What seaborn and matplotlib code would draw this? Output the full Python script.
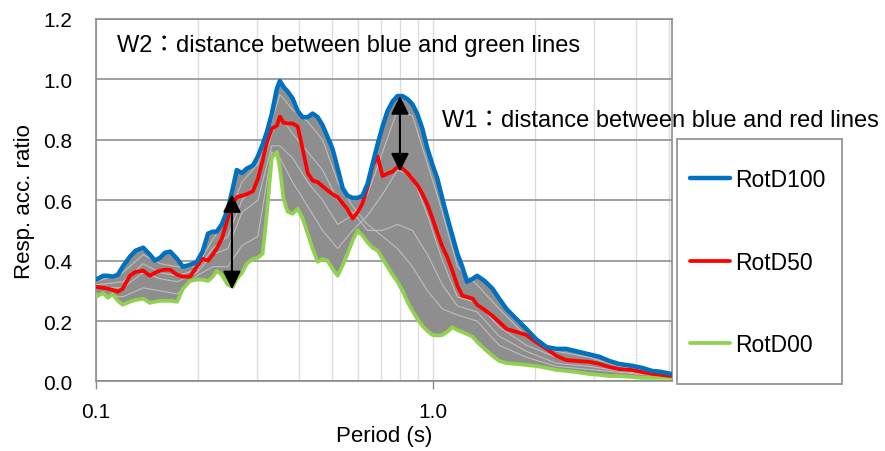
import pandas as pd
import matplotlib
matplotlib.use('Agg')
import matplotlib.pyplot as plt
from matplotlib.ticker import FixedLocator, NullFormatter, FormatStrFormatter
from matplotlib.patches import Rectangle
import seaborn as sns

# periods (s)
period = [0.100, 0.105, 0.1085, 0.112, 0.116, 0.120, 0.126, 0.131, 0.138, 0.1445,
          0.1495, 0.155, 0.160, 0.166, 0.174, 0.181, 0.190, 0.199, 0.207, 0.215,
          0.222, 0.228, 0.236, 0.246, 0.2545, 0.2615, 0.271, 0.280, 0.292, 0.302,
          0.312, 0.321, 0.332, 0.344, 0.351, 0.360, 0.370, 0.383, 0.3965, 0.410,
          0.4245, 0.439, 0.4545, 0.470, 0.486, 0.503, 0.521, 0.539, 0.557, 0.577,
          0.597, 0.617, 0.639, 0.661, 0.684, 0.708, 0.732, 0.758, 0.784, 0.811,
          0.839, 0.868, 0.898, 0.930, 0.962, 0.995, 1.03, 1.065, 1.10, 1.14,
          1.18, 1.22, 1.26, 1.31, 1.35, 1.42, 1.50, 1.57, 1.65, 1.765,
          1.89, 2.02, 2.17, 2.32, 2.48, 2.66, 2.90, 3.11, 3.33, 3.56,
          3.89, 4.17, 4.46, 4.74, 5.08]

rotd100 = [0.337, 0.350, 0.350, 0.347, 0.353, 0.380, 0.413, 0.433, 0.443, 0.420,
           0.400, 0.410, 0.426, 0.430, 0.406, 0.380, 0.386, 0.396, 0.430, 0.490,
           0.496, 0.496, 0.520, 0.570, 0.640, 0.700, 0.690, 0.705, 0.715, 0.745,
           0.785, 0.825, 0.885, 0.970, 0.995, 0.975, 0.960, 0.937, 0.895, 0.875,
           0.875, 0.887, 0.875, 0.848, 0.810, 0.770, 0.705, 0.640, 0.615, 0.608,
           0.608, 0.615, 0.655, 0.720, 0.785, 0.845, 0.895, 0.927, 0.945, 0.945,
           0.935, 0.918, 0.885, 0.835, 0.770, 0.718, 0.670, 0.605, 0.545, 0.483,
           0.423, 0.380, 0.330, 0.340, 0.350, 0.333, 0.307, 0.274, 0.240, 0.207,
           0.174, 0.140, 0.114, 0.108, 0.108, 0.100, 0.090, 0.082, 0.068, 0.058,
           0.052, 0.045, 0.035, 0.032, 0.025]

rotd50 = [0.313, 0.310, 0.307, 0.303, 0.297, 0.307, 0.350, 0.363, 0.367, 0.350,
          0.360, 0.367, 0.370, 0.370, 0.353, 0.347, 0.347, 0.380, 0.406, 0.400,
          0.420, 0.440, 0.472, 0.540, 0.590, 0.610, 0.615, 0.620, 0.630, 0.670,
          0.730, 0.790, 0.837, 0.847, 0.877, 0.857, 0.854, 0.854, 0.844, 0.770,
          0.690, 0.665, 0.660, 0.646, 0.633, 0.620, 0.610, 0.590, 0.570, 0.540,
          0.560, 0.590, 0.645, 0.715, 0.745, 0.680, 0.688, 0.695, 0.710, 0.705,
          0.690, 0.670, 0.650, 0.620, 0.585, 0.540, 0.490, 0.446, 0.413, 0.367,
          0.317, 0.284, 0.280, 0.274, 0.254, 0.237, 0.217, 0.197, 0.174, 0.164,
          0.154, 0.130, 0.108, 0.085, 0.071, 0.068, 0.065, 0.058, 0.048, 0.041,
          0.038, 0.031, 0.025, 0.022, 0.018]

rotd00 = [0.280, 0.293, 0.277, 0.290, 0.267, 0.254, 0.264, 0.270, 0.274, 0.260,
          0.264, 0.267, 0.267, 0.267, 0.264, 0.307, 0.333, 0.337, 0.337, 0.333,
          0.347, 0.367, 0.353, 0.320, 0.313, 0.340, 0.360, 0.390, 0.406, 0.410,
          0.423, 0.555, 0.740, 0.760, 0.705, 0.605, 0.562, 0.555, 0.572, 0.540,
          0.490, 0.440, 0.396, 0.406, 0.400, 0.373, 0.350, 0.385, 0.423, 0.466,
          0.500, 0.483, 0.460, 0.443, 0.433, 0.406, 0.380, 0.353, 0.330, 0.300,
          0.264, 0.234, 0.207, 0.184, 0.167, 0.154, 0.152, 0.154, 0.164, 0.180,
          0.170, 0.164, 0.157, 0.148, 0.131, 0.108, 0.085, 0.068, 0.061, 0.058,
          0.055, 0.051, 0.045, 0.038, 0.035, 0.031, 0.025, 0.022, 0.018, 0.018,
          0.015, 0.012, 0.012, 0.012, 0.012]

# a few of the intermediate rotation angles (grey bundle)
gray_period = [0.100, 0.120, 0.138, 0.155, 0.174, 0.199, 0.222, 0.246, 0.271, 0.302,
               0.332, 0.351, 0.383, 0.4245, 0.470, 0.521, 0.577, 0.639, 0.708, 0.784,
               0.868, 0.962, 1.065, 1.18, 1.35, 1.57, 1.89, 2.32, 2.90, 3.56,
               4.46, 5.08]
gray_a = [0.33, 0.36, 0.42, 0.39, 0.38, 0.38, 0.47, 0.54, 0.66, 0.72, 0.86, 0.95, 0.90, 0.86, 0.80, 0.66,
          0.58, 0.52, 0.48, 0.44, 0.38, 0.30, 0.24, 0.22, 0.20, 0.12, 0.08, 0.05, 0.04, 0.03, 0.020, 0.016]
gray_b = [0.31, 0.31, 0.36, 0.34, 0.33, 0.36, 0.42, 0.44, 0.56, 0.60, 0.78, 0.78, 0.74, 0.66, 0.60, 0.52,
          0.55, 0.62, 0.76, 0.90, 0.88, 0.72, 0.56, 0.38, 0.32, 0.24, 0.15, 0.10, 0.08, 0.05, 0.030, 0.022]
gray_c = [0.29, 0.28, 0.31, 0.30, 0.29, 0.35, 0.38, 0.38, 0.45, 0.48, 0.76, 0.74, 0.66, 0.58, 0.50, 0.44,
          0.50, 0.55, 0.62, 0.70, 0.68, 0.55, 0.40, 0.28, 0.26, 0.18, 0.12, 0.08, 0.06, 0.04, 0.025, 0.020]
gray_d = [0.32, 0.33, 0.39, 0.36, 0.35, 0.37, 0.44, 0.48, 0.60, 0.66, 0.82, 0.88, 0.82, 0.76, 0.70, 0.60,
          0.56, 0.50, 0.50, 0.52, 0.50, 0.42, 0.32, 0.25, 0.23, 0.15, 0.10, 0.06, 0.05, 0.035, 0.022, 0.018]

colors = {'RotD100': '#0070c0', 'RotD50': '#ff0000', 'RotD00': '#92d050'}
widths = {'RotD100': 3.2, 'RotD50': 2.7, 'RotD00': 2.7}

sns.set_theme(style='white')
plt.rcParams['font.family'] = ['Liberation Sans', 'Noto Sans CJK JP', 'DejaVu Sans']
plt.rcParams['text.color'] = 'black'
plt.rcParams['axes.labelcolor'] = 'black'
plt.rcParams['xtick.labelcolor'] = 'black'
plt.rcParams['ytick.labelcolor'] = 'black'

df = pd.concat([
    pd.DataFrame({'period': period, 'ratio': rotd00, 'curve': 'RotD00'}),
    pd.DataFrame({'period': period, 'ratio': rotd50, 'curve': 'RotD50'}),
    pd.DataFrame({'period': period, 'ratio': rotd100, 'curve': 'RotD100'}),
])
gray = pd.concat([
    pd.DataFrame({'period': gray_period, 'ratio': vals, 'angle': name})
    for name, vals in [('a', gray_a), ('b', gray_b), ('c', gray_c), ('d', gray_d)]
])

fig = plt.figure(figsize=(8.85, 4.52), dpi=100)
ax = fig.add_axes([0.1085, 0.1538, 0.6505, 0.802])

# grey bundle of rotated spectra
ax.fill_between(period, rotd00, rotd100, color='#8e8e8e', lw=0, zorder=2)
sns.lineplot(data=gray, x='period', y='ratio', units='angle', estimator=None,
             color='#bdbdbd', linewidth=0.8, ax=ax, zorder=3)

for name in ['RotD00', 'RotD50', 'RotD100']:
    sns.lineplot(data=df[df.curve == name], x='period', y='ratio', color=colors[name],
                 linewidth=widths[name], ax=ax, label=name, zorder=4)

ax.set_xscale('log')
ax.set_xlim(0.1, 5.1)
ax.set_ylim(0, 1.2)

ax.xaxis.set_major_locator(FixedLocator([0.1, 1.0]))
ax.set_xticklabels(['0.1', '1.0'])
ax.xaxis.set_minor_locator(FixedLocator([0.2, 0.3, 0.4, 0.5, 0.6, 0.7, 0.8, 0.9, 2, 3, 4, 5]))
ax.xaxis.set_minor_formatter(NullFormatter())
ax.set_yticks([0, 0.2, 0.4, 0.6, 0.8, 1.0, 1.2])
ax.yaxis.set_major_formatter(FormatStrFormatter('%.1f'))

ax.grid(axis='y', which='major', color='#999999', linewidth=1.3, zorder=0)
ax.grid(axis='x', which='both', color='#dcdcdc', linewidth=1.0, zorder=0)
ax.set_axisbelow(True)

ax.tick_params(axis='x', which='major', length=6, width=1, color='#8c8c8c',
               labelsize=15, pad=9, direction='out', bottom=True)
ax.tick_params(axis='x', which='minor', length=0)
ax.tick_params(axis='y', length=0, labelsize=15, pad=17)
for side in ax.spines.values():
    side.set_color('#8c8c8c')
    side.set_linewidth(1.2)

ax.set_xlabel('Period (s)', fontsize=16, labelpad=3)
ax.set_ylabel('Resp. acc. ratio', fontsize=16, labelpad=6)

# W1 / W2 arrows
arrow = dict(arrowstyle='<|-|>,head_length=0.55,head_width=0.27', color='black',
             lw=1.5, shrinkA=0, shrinkB=0, mutation_scale=20)
ax.annotate('', xy=(0.253, 0.62), xytext=(0.253, 0.305), arrowprops=arrow, zorder=6)
ax.annotate('', xy=(0.797, 0.945), xytext=(0.797, 0.695), arrowprops=arrow, zorder=6)

fig.text(117 / 885, 1 - 52 / 452, 'W2：distance between blue and green lines',
         fontsize=17, va='baseline', ha='left')
fig.text(442 / 885, 1 - 127 / 452, 'W1：distance between blue and red lines',
         fontsize=17, va='baseline', ha='left')

# legend
handles, labels = ax.get_legend_handles_labels()
order = [labels.index(n) for n in ['RotD100', 'RotD50', 'RotD00']]
ax.legend([handles[i] for i in order], [labels[i] for i in order],
          loc='upper left', bbox_to_anchor=(690 / 885, 1 - 169 / 452),
          bbox_transform=fig.transFigure, frameon=False, fontsize=16.5,
          handlelength=1.75, handletextpad=0.2, labelspacing=2.6,
          borderpad=0, borderaxespad=0)
fig.patches.append(Rectangle((677 / 885, 1 - 385 / 452), 165 / 885, 245 / 452,
                             transform=fig.transFigure, fill=False,
                             edgecolor='#8c8c8c', linewidth=1.2))

fig.savefig('out.png', dpi=100)
